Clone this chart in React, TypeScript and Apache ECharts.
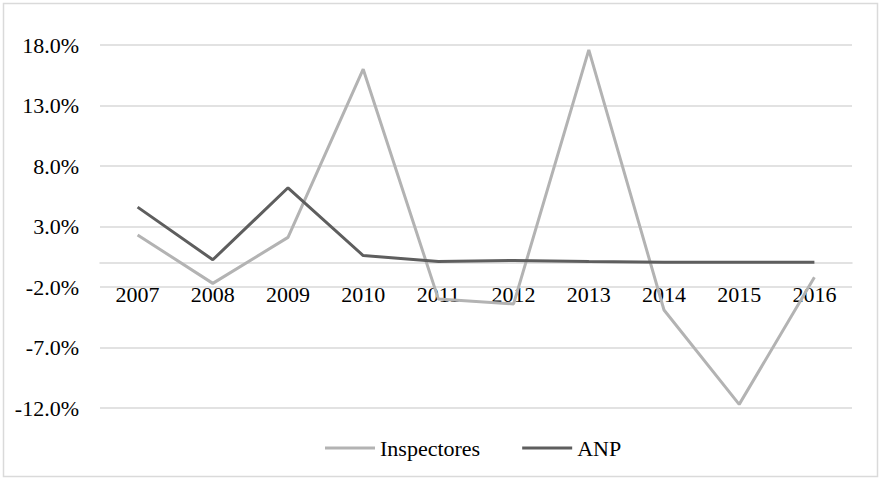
import React, { useEffect, useRef } from "react";
import * as echarts from "echarts";

const years = ["2007", "2008", "2009", "2010", "2011", "2012", "2013", "2014", "2015", "2016"];
const inspectores = [2.3, -1.7, 2.1, 16.0, -3.0, -3.4, 17.6, -3.9, -11.7, -1.2];
const anp = [4.6, 0.25, 6.2, 0.6, 0.1, 0.2, 0.1, 0.05, 0.05, 0.05];
const yTicks = [-12, -7, -2, 3, 8, 13, 18];

const Y_MIN = -12;
const Y_MAX = 18;
const GRID_TOP = 45;
const GRID_BOTTOM = 74;
const H = 482;

export default function App() {
  const ref = useRef<HTMLDivElement>(null);
  useEffect(() => {
    const chart = echarts.init(ref.current!, null, { renderer: "svg" });
    const font = "Liberation Serif";
    const plotH = H - GRID_TOP - GRID_BOTTOM;
    const zeroOffset = -(plotH * (0 - Y_MIN)) / (Y_MAX - Y_MIN);
    chart.setOption({
      animation: false,
      backgroundColor: "#ffffff",
      textStyle: { fontFamily: font },
      graphic: [
        {
          type: "rect",
          shape: { x: 3.5, y: 3.5, width: 874, height: 473 },
          style: { fill: "none", stroke: "#dadada", lineWidth: 1.5 },
          silent: true,
        },
      ],
      legend: {
        bottom: 18,
        left: 320,
        itemWidth: 50,
        itemHeight: 3,
        itemGap: 42,
        icon: "rect",
        textStyle: { fontFamily: font, fontSize: 22, color: "#000" },
        data: ["Inspectores", "ANP"],
      },
      grid: { left: 100, right: 31, top: GRID_TOP, bottom: GRID_BOTTOM, containLabel: false },
      xAxis: {
        type: "category",
        data: years,
        boundaryGap: true,
        position: "bottom",
        offset: zeroOffset,
        axisLine: { onZero: false, lineStyle: { color: "#d9d9d9", width: 1.5 } },
        axisTick: { show: false },
        axisLabel: { fontFamily: font, fontSize: 22, color: "#000", margin: 21 },
      },
      yAxis: {
        type: "value",
        min: Y_MIN,
        max: Y_MAX,
        interval: 5,
        axisLine: { show: false },
        axisTick: { show: false },
        splitLine: { lineStyle: { color: "#d9d9d9", width: 1.5 } },
        axisLabel: {
          fontFamily: font,
          fontSize: 22,
          color: "#000",
          margin: 21,
          customValues: yTicks,
          formatter: (v: number) => v.toFixed(1) + "%",
        },
      },
      series: [
        {
          name: "Inspectores",
          type: "line",
          data: inspectores,
          symbol: "none",
          lineStyle: { color: "#b3b3b3", width: 3 },
          itemStyle: { color: "#b3b3b3" },
        },
        {
          name: "ANP",
          type: "line",
          data: anp,
          symbol: "none",
          lineStyle: { color: "#5e5e5e", width: 3 },
          itemStyle: { color: "#5e5e5e" },
        },
      ],
    });
    return () => chart.dispose();
  }, []);
  return (
    <div
      ref={ref}
      style={{ position: "absolute", left: 0, top: 0, width: 883, height: 482 }}
    />
  );
}
